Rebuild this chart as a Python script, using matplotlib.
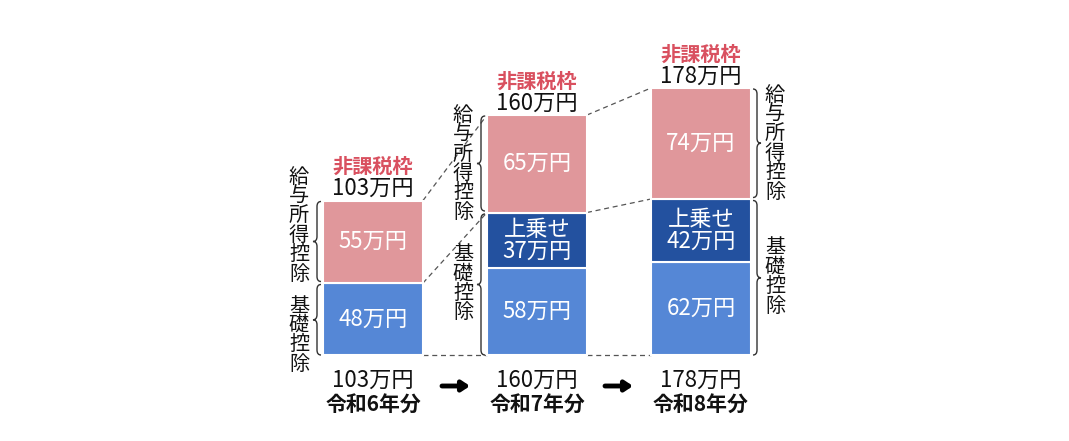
import matplotlib.pyplot as plt
from matplotlib.path import Path
from matplotlib.patches import PathPatch

plt.rcParams['font.family'] = ['Noto Sans CJK JP', 'DejaVu Sans']

# data (万円)
years = ['令和6年分', '令和7年分', '令和8年分']
totals = [103, 160, 178]
basic = [48, 58, 62]
extra = [0, 37, 42]
salary = [55, 65, 74]

PINK = '#E0979B'
BLUE = '#5587D6'
NAVY = '#23519F'
RED = '#D9505F'

W, H = 1069, 441
S = 1.5      # pixels per 万円
BASE = 355   # pixel row of the zero line
px = 1 / S


def ypos(ypx):
    """pixel row -> data y"""
    return (BASE - ypx) / S


def brace(ax, x, y0, y1, d, w=8):
    """curly brace from y0 to y1, ends at x, tip pointing to side d"""
    r = 5 * px
    ym = (y0 + y1) / 2
    xs = x + d * w / 2
    xt = x + d * w
    verts = [(x, y0), (xs, y0), (xs, y0 + r), (xs, ym - r), (xs, ym), (xt, ym),
             (xs, ym), (xs, ym + r), (xs, y1 - r), (xs, y1), (x, y1)]
    codes = [Path.MOVETO, Path.CURVE3, Path.CURVE3, Path.LINETO, Path.CURVE3, Path.CURVE3,
             Path.CURVE3, Path.CURVE3, Path.LINETO, Path.CURVE3, Path.CURVE3]
    ax.add_patch(PathPatch(Path(verts, codes), fill=False, lw=1.0, color='#333333'))


def vtext(ax, x, y, s, **kw):
    ax.text(x, y, '\n'.join(s), ha='center', va='center', fontsize=14.5,
            linespacing=0.9, color='#111111', **kw)


fig = plt.figure(figsize=(W / 100, H / 100), dpi=100)
ax = fig.add_axes([0, 0, 1, 1])
ax.set_xlim(0, W)
ax.set_ylim(ypos(H), ypos(0))
ax.axis('off')

centers = [373, 537, 701]
bw = 100
sides = [-1, -1, 1]

kid = [b + e for b, e in zip(basic, extra)]

ax.bar(centers, basic, bw, color=BLUE, edgecolor='white', lw=1.5, zorder=2)
for i in range(3):
    if extra[i] > 0:
        ax.bar(centers[i], extra[i], bw, bottom=basic[i], color=NAVY,
               edgecolor='white', lw=1.5, zorder=2)
ax.bar(centers, salary, bw, bottom=kid, color=PINK, edgecolor='white', lw=1.5, zorder=2)

# dashed connectors
dash = dict(ls=(0, (4, 3)), color='#555555', lw=0.9, zorder=1)
for i in range(2):
    x0 = centers[i] + bw / 2
    x1 = centers[i + 1] - bw / 2
    ax.plot([x0, x1], [totals[i], totals[i + 1]], **dash)
    ax.plot([x0, x1], [kid[i], kid[i + 1]], **dash)
    ax.plot([x0, x1], [0, 0], **dash)

for i, c in enumerate(centers):
    # segment labels
    ax.text(c, basic[i] / 2, f'{basic[i]}万円', ha='center', va='center',
            color='white', fontsize=16, zorder=3)
    if extra[i] > 0:
        ax.text(c, basic[i] + extra[i] / 2, f'上乗せ\n{extra[i]}万円', ha='center',
                va='center', color='white', fontsize=16, linespacing=0.95, zorder=3)
    ax.text(c, kid[i] + salary[i] / 2, f'{salary[i]}万円', ha='center', va='center',
            color='white', fontsize=16, zorder=3)

    # top labels
    ax.text(c, totals[i] + 12 * px, f'{totals[i]}万円', ha='center', va='center',
            fontsize=16, color='#111111')
    ax.text(c, totals[i] + 34 * px, '非課税枠', ha='center', va='center',
            fontsize=14.5, fontweight='bold', color=RED)

    # bottom labels
    ax.text(c, ypos(380), f'{totals[i]}万円', ha='center', va='center',
            fontsize=16, color='#111111')
    ax.text(c, ypos(404), years[i], ha='center', va='center',
            fontsize=15, fontweight='bold', color='#111111')

    # braces + vertical labels
    d = sides[i]
    edge = c + d * bw / 2
    brace(ax, edge + d * 2, kid[i] + 1.5 * px, totals[i] - 1 * px, d)
    brace(ax, edge + d * 2, 0, kid[i] - 1.5 * px, d)
    tx = edge + d * 24
    cs = (kid[i] + totals[i]) / 2
    cb = kid[i] / 2
    hs = 6 * 19.5 / 2 * px
    hb = 4 * 19.5 / 2 * px
    ov = (cb + hb + 12 * px) - (cs - hs)
    if ov > 0:
        cs += ov / 2
        cb -= ov / 2
    vtext(ax, tx, cs, '給与所得控除')
    vtext(ax, tx, cb, '基礎控除')

# arrows between years
for xa in [456, 619]:
    ax.annotate('', xy=(xa + 14, ypos(386)), xytext=(xa - 14, ypos(386)),
                arrowprops=dict(arrowstyle='-|>,head_length=0.45,head_width=0.3',
                                lw=3.5, color='black', shrinkA=0, shrinkB=0))

fig.savefig('out.png', dpi=100)
